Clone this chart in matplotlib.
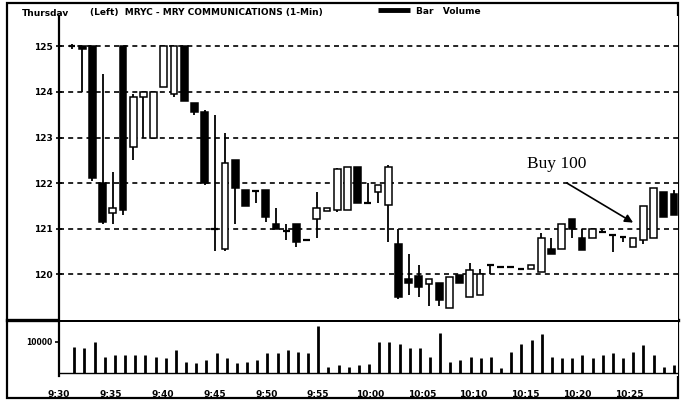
import numpy as np
import matplotlib
matplotlib.use('Agg')
import matplotlib.pyplot as plt
from matplotlib.patches import Rectangle

# 1-minute bars, 9:30 .. 10:29
opens = [125.0, 125.0, 125.0, 122.0, 121.35, 125.0, 122.8, 123.9, 123.0, 124.1,
         123.95, 125.0, 123.75, 123.55, 121.0, 120.55, 122.5, 121.85, 121.82, 121.85,
         121.1, 120.95, 121.1, 120.75, 121.2, 121.38, 121.4, 121.4, 122.35, 121.57,
         121.8, 121.52, 120.65, 119.9, 119.95, 119.78, 119.8, 119.25, 119.98, 119.5,
         119.54, 120.2, 120.15, 120.15, 120.12, 120.1, 120.05, 120.55, 120.55, 121.2,
         120.8, 120.8, 120.92, 120.85, 120.82, 120.6, 120.75, 120.8, 121.8, 121.75]
highs = [125.05, 125.0, 125.0, 124.4, 122.25, 125.0, 123.95, 124.0, 124.0, 125.0,
         125.0, 125.0, 123.75, 123.6, 123.5, 123.1, 122.5, 121.85, 121.82, 121.85,
         121.45, 121.1, 121.1, 120.75, 121.8, 121.45, 122.33, 122.35, 122.35, 122.0,
         121.95, 122.4, 121.0, 120.45, 120.2, 119.9, 119.8, 119.94, 119.98, 120.25,
         120.1, 120.2, 120.15, 120.15, 120.12, 120.2, 120.9, 120.8, 121.1, 121.2,
         121.0, 121.0, 121.0, 120.85, 120.82, 120.8, 121.5, 121.9, 121.8, 121.85]
lows = [124.95, 124.0, 122.05, 121.1, 121.1, 121.3, 122.5, 123.0, 123.0, 124.1,
        123.9, 123.8, 123.5, 121.95, 120.5, 120.5, 121.1, 121.5, 121.55, 121.15,
        120.98, 120.75, 120.6, 120.72, 120.8, 121.38, 121.37, 121.4, 121.55, 121.55,
        121.55, 120.7, 119.45, 119.55, 119.5, 119.3, 119.3, 119.25, 119.8, 119.5,
        119.54, 120.0, 120.15, 120.15, 120.12, 120.1, 120.05, 120.45, 120.55, 120.8,
        120.53, 120.8, 120.9, 120.48, 120.7, 120.6, 120.65, 120.8, 121.25, 121.3]
closes = [125.0, 124.95, 122.1, 121.15, 121.45, 121.4, 123.9, 124.0, 124.0, 125.0,
          125.0, 123.8, 123.55, 122.0, 121.0, 122.45, 121.9, 121.5, 121.8, 121.25,
          121.0, 120.95, 120.7, 120.73, 121.45, 121.45, 122.3, 122.35, 121.56, 121.55,
          121.95, 122.35, 119.5, 119.8, 119.72, 119.9, 119.43, 119.94, 119.8, 120.08,
          120.0, 120.18, 120.15, 120.15, 120.12, 120.2, 120.8, 120.45, 121.1, 121.0,
          120.53, 121.0, 120.9, 120.83, 120.8, 120.8, 121.5, 121.9, 121.25, 121.3]
volumes = [8400, 8000, 10000, 5300, 5800, 5800, 5800, 5800, 5300, 4700,
           7400, 3700, 3200, 4200, 6300, 4700, 3200, 3700, 4200, 6300,
           6300, 7400, 6800, 6300, 15300, 2000, 2500, 1800, 2500, 2800,
           10000, 10000, 9500, 8000, 8000, 5000, 13000, 3700, 4200, 5300,
           4700, 5300, 1600, 6800, 9500, 10500, 12600, 5300, 4700, 4700,
           5800, 4700, 5800, 6300, 4700, 6800, 9000, 5800, 2000, 2500]

price_ticks = [120, 121, 122, 123, 124, 125]
time_labels = ['9:30', '9:35', '9:40', '9:45', '9:50', '9:55',
               '10:00', '10:05', '10:10', '10:15', '10:20', '10:25']
label_minutes = [0, 5, 10, 15, 20, 25, 30, 35, 40, 45, 50, 55]

W, H = 682, 404
FONT = ['Liberation Sans Narrow', 'DejaVu Sans']


def box(x0, y0, x1, y1):
    return [x0 / W, 1 - y1 / H, (x1 - x0) / W, (y1 - y0) / H]


fig = plt.figure(figsize=(W / 100, H / 100), dpi=100)
fig.patch.set_facecolor('white')

xlim = (-1.27, 59.4)

# price panel
ax = fig.add_axes(box(59, 16, 678, 320))
ax.set_xlim(*xlim)
ax.set_ylim(118.99, 125.67)
for p in price_ticks:
    ax.axhline(p, color='black', lw=1.2, dashes=(3, 2.5), zorder=1)

bw = 0.66
for i in range(len(opens)):
    o, hi, lo, c = opens[i], highs[i], lows[i], closes[i]
    ax.vlines(i, lo, hi, color='black', lw=1.3, zorder=2)
    if abs(c - o) < 0.04:
        ax.hlines(o, i - bw / 2, i + bw / 2, color='black', lw=1.6, zorder=3)
    else:
        face = 'white' if c > o else 'black'
        ax.add_patch(Rectangle((i - bw / 2, min(o, c)), bw, abs(c - o),
                               facecolor=face, edgecolor='black', lw=1.1, zorder=3))

ax.set_yticks(price_ticks)
ax.set_yticklabels([str(p) for p in price_ticks], fontsize=6.5, fontweight='bold',
                   family=FONT)
ax.tick_params(axis='y', direction='inout', length=5, width=1.2, pad=2)
ax.set_xticks([])
for s in ['top', 'right', 'bottom']:
    ax.spines[s].set_visible(False)
ax.spines['left'].set_linewidth(1.6)

ax.text(47.5, 122.42, 'Buy 100', family='Liberation Serif', fontsize=12.5,
        ha='center', va='center')
ax.annotate('', xy=(55.0, 121.13), xytext=(48.5, 122.0),
            arrowprops=dict(arrowstyle='-|>', color='black', lw=1.2,
                            mutation_scale=12, shrinkA=0, shrinkB=0))

# volume panel
vx = fig.add_axes(box(59, 322, 678, 376))
vx.set_xlim(*xlim)
vx.set_ylim(-970, 16450)
vx.vlines(range(len(volumes)), 0, volumes, color='black', lw=2.0)
vx.axhline(0, color='black', lw=1.0)
vx.set_yticks([10000])
vx.set_yticklabels(['10000'], fontsize=5.5, fontweight='bold', family=FONT)
vx.tick_params(axis='y', length=3, width=1.2, pad=2)
vx.set_xticks([1.02 * m - 1.5 for m in label_minutes])
vx.set_xticklabels(time_labels, fontsize=6.5, fontweight='bold', family=FONT)
vx.tick_params(axis='x', length=0, pad=10)
for s in ['top', 'right', 'bottom']:
    vx.spines[s].set_visible(False)
vx.spines['left'].set_linewidth(1.6)

# frame, divider and title row in pixel space
ov = fig.add_axes([0, 0, 1, 1], zorder=-1)
ov.set_xlim(0, W)
ov.set_ylim(H, 0)
ov.axis('off')
ov.add_patch(Rectangle((7, 3), 671, 395, fill=False, edgecolor='black', lw=1.6))
ov.plot([7, 678], [320, 320], color='black', lw=2.4)
ov.plot([378, 410], [10, 10], color='black', lw=3.5, solid_capstyle='butt')
ov.text(22, 13, 'Thursday', fontsize=6.5, fontweight='bold', family=FONT, va='center')
ov.text(90, 12, '(Left)  MRYC - MRY COMMUNICATIONS (1-Min)', fontsize=6.5,
        fontweight='bold', family=FONT, va='center')
ov.text(416, 11, 'Bar   Volume', fontsize=6.5, fontweight='bold', family=FONT,
        va='center')
ov.text(63, 28, '3/22', fontsize=6.5, fontweight='bold', family=FONT, va='center')

fig.savefig('out.png', dpi=100)
